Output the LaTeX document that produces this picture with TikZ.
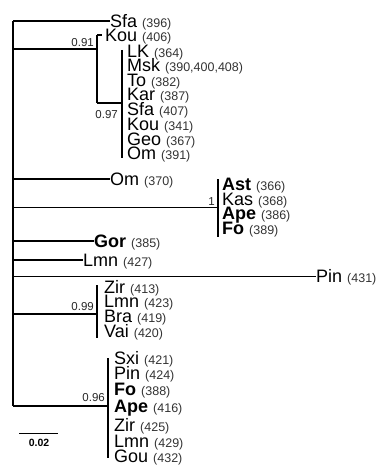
\documentclass[tikz,border=0pt]{standalone}
\usepackage{fontspec}
\setmainfont{Liberation Sans}
\newcommand\nbx[1]{{\fontsize{12.5}{12.5}\selectfont\color{black!80}(#1)}}
\begin{document}
\begin{tikzpicture}[x=1pt,y=-1pt,
  br/.style={line width=1.7pt},
  thinbr/.style={line width=0.9pt},
  leaf/.style={anchor=west,inner sep=0pt,text height=13pt,text depth=0pt,font=\fontsize{18}{18}\selectfont},
  supp/.style={font=\fontsize{11.5}{11.5}\selectfont,inner sep=0pt,text=black!85}]
\useasboundingbox (0,0) rectangle (382,465);
% root
\coordinate (rt) at (13,21);
\coordinate (rb) at (13,406);
\draw[br] (rt) -- (rb);
% Sfa 396
\node[leaf] (sfa396) at (110,21) {Sfa \nbx{396}};
\draw[br] (rt) -- (sfa396.west);
% clade 0.91
\coordinate (r91) at (13,49);
\coordinate (n91) at (97,49);
\coordinate (n91t) at (97,35);
\coordinate (n91b) at (97,103);
\draw[br] (r91) -- (n91);
\draw[br] (n91t) -- (n91b);
\node[leaf] (kou406) at (105,35) {Kou \nbx{406}};
\draw[br] (n91t) -- ++(5,0);
\node[supp,anchor=south east] (l91) at (94,47) {0.91};
% clade 0.97
\coordinate (n97) at (122,103);
\coordinate (n97t) at (122,50);
\coordinate (n97b) at (122,158);
\draw[br] (n91b) -- (n97);
\draw[br] (n97t) -- (n97b);
\node[supp,anchor=north east] (l97) at (118,110) {0.97};
\node[leaf] (lk) at (127,51) {LK \nbx{364}};
\node[leaf] (msk) at (127,65) {Msk \nbx{390,400,408}};
\node[leaf] (to) at (127,80) {To \nbx{382}};
\node[leaf] (kar) at (127,94) {Kar \nbx{387}};
\node[leaf] (sfa407) at (127,109) {Sfa \nbx{407}};
\node[leaf] (kou341) at (127,124) {Kou \nbx{341}};
\node[leaf] (geo) at (127,139) {Geo \nbx{367}};
\node[leaf] (om391) at (127,153) {Om \nbx{391}};
% Om 370
\coordinate (rom) at (13,179);
\node[leaf] (om370) at (110,179) {Om \nbx{370}};
\draw[br] (rom) -- (om370.west);
% clade 1
\coordinate (r1) at (13,207);
\coordinate (n1) at (218,207);
\coordinate (n1t) at (218,179);
\coordinate (n1b) at (218,237);
\draw[thinbr] (r1) -- (n1);
\draw[br] (n1t) -- (n1b);
\node[supp,anchor=south east] (l1) at (215,206) {1};
\node[leaf] (ast) at (222,184) {\textbf{Ast} \nbx{366}};
\node[leaf] (kas) at (222,199) {Kas \nbx{368}};
\node[leaf] (ape386) at (222,213) {\textbf{Ape} \nbx{386}};
\node[leaf] (fo389) at (222,228) {\textbf{Fo} \nbx{389}};
% Gor
\coordinate (rgor) at (13,241);
\node[leaf] (gor) at (94,241) {\textbf{Gor} \nbx{385}};
\draw[br] (rgor) -- (gor.west);
% Lmn 427
\coordinate (rlmn) at (13,260);
\node[leaf] (lmn427) at (83,260) {Lmn \nbx{427}};
\draw[br] (rlmn) -- (lmn427.west);
% Pin 431
\coordinate (rpin) at (13,276);
\node[leaf] (pin431) at (316,276) {Pin \nbx{431}};
\draw[thinbr] (rpin) -- (pin431.west);
% clade 0.99
\coordinate (r99) at (13,314);
\coordinate (n99) at (97,314);
\coordinate (n99t) at (97,285);
\coordinate (n99b) at (97,338);
\draw[br] (r99) -- (n99);
\draw[br] (n99t) -- (n99b);
\node[supp,anchor=south east] (l99) at (94,311) {0.99};
\node[leaf] (zir413) at (104,287) {Zir \nbx{413}};
\node[leaf] (lmn423) at (104,301) {Lmn \nbx{423}};
\node[leaf] (bra) at (104,316) {Bra \nbx{419}};
\node[leaf] (vai) at (104,331) {Vai \nbx{420}};
% clade 0.96
\coordinate (n96) at (108,406);
\coordinate (n96t) at (108,358);
\coordinate (n96b) at (108,458);
\draw[br] (rb) -- (n96);
\draw[br] (n96t) -- (n96b);
\node[supp,anchor=south east] (l96) at (105,402) {0.96};
\node[leaf] (sxi) at (114,358) {Sxi \nbx{421}};
\node[leaf] (pin424) at (114,373) {Pin \nbx{424}};
\node[leaf] (fo388) at (114,389) {\textbf{Fo} \nbx{388}};
\node[leaf] (ape416) at (114,406) {\textbf{Ape} \nbx{416}};
\node[leaf] (zir425) at (114,425) {Zir \nbx{425}};
\node[leaf] (lmn429) at (114,441) {Lmn \nbx{429}};
\node[leaf] (gou) at (114,456) {Gou \nbx{432}};
% scale bar
\coordinate (sb1) at (19,433);
\coordinate (sb2) at (58,433);
\draw[line width=1pt] (sb1) -- (sb2);
\node[font=\fontsize{10.5}{10.5}\selectfont\bfseries,inner sep=0pt] (sbl) at (39,443) {0.02};
\end{tikzpicture}
\end{document}
